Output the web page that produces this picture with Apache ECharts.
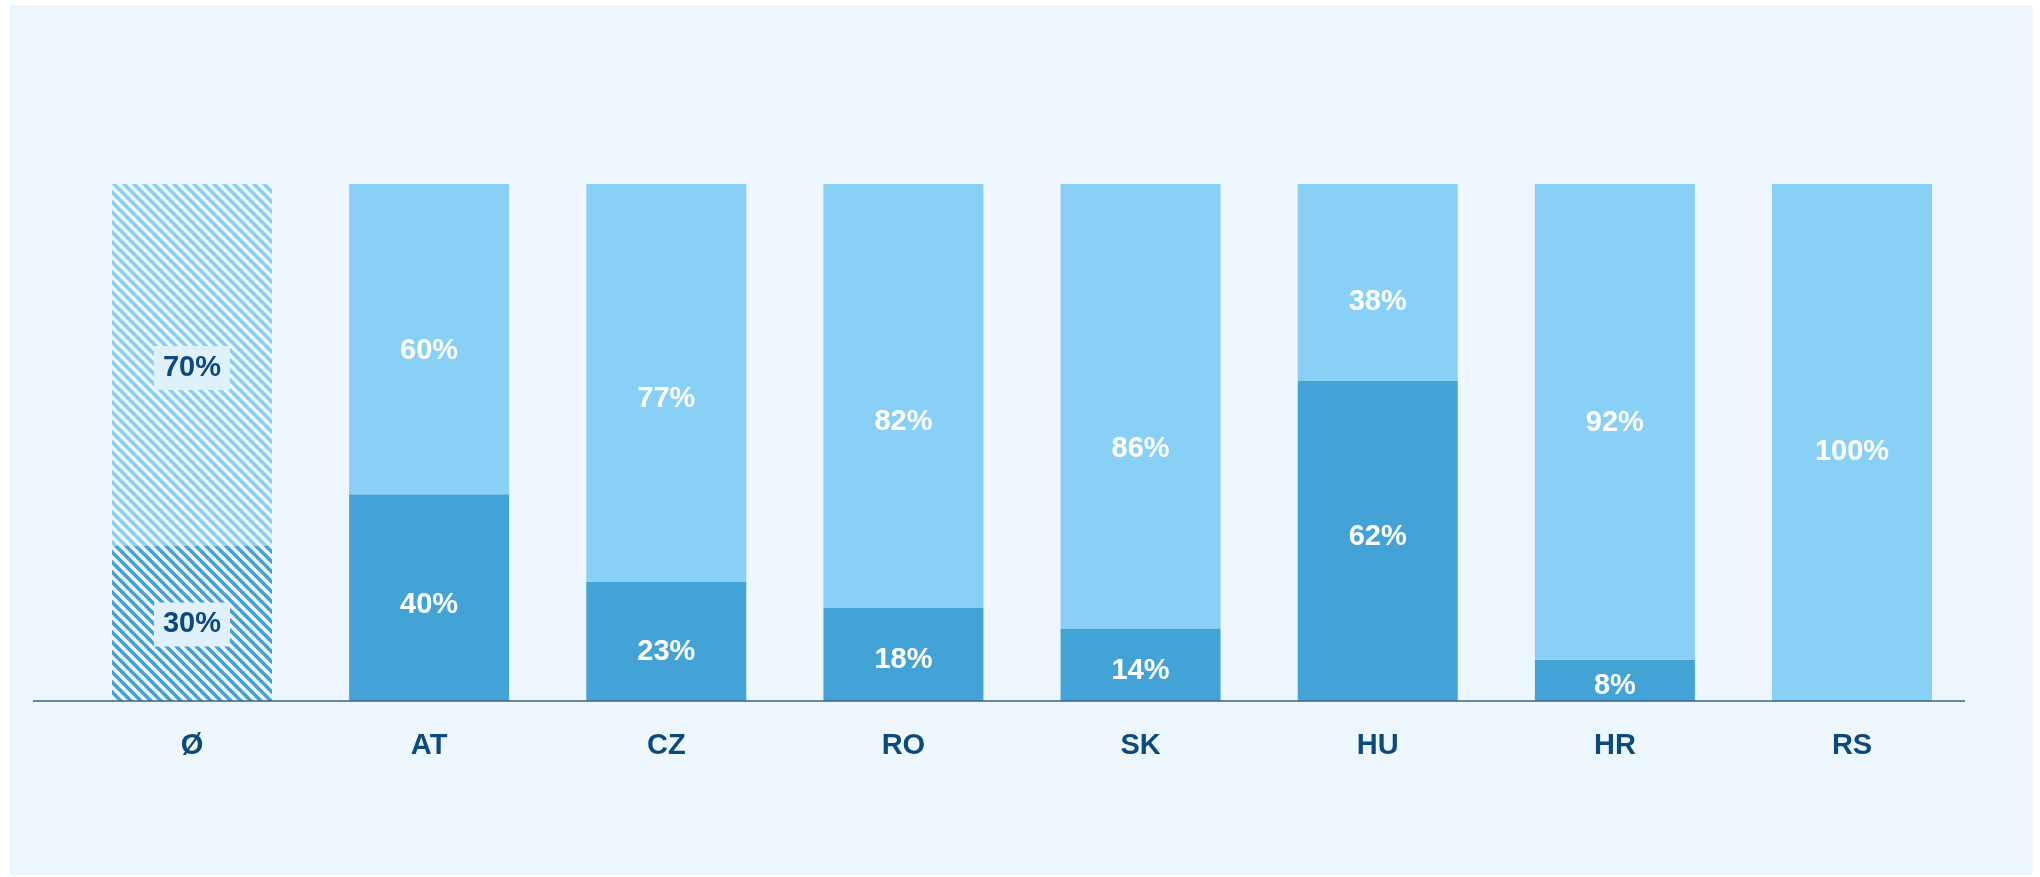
<!DOCTYPE html>
<html>
<head>
<meta charset="utf-8">
<script src="https://cdn.jsdelivr.net/npm/echarts@6/dist/echarts.min.js"></script>
<style>
    html, body { margin: 0; padding: 0; background: #ffffff; }
    .panel { position: absolute; left: 10px; top: 5px; width: 2023px; height: 870px; background: #eff7fe; }
    #chart { position: absolute; left: 0; top: 0; width: 2040px; height: 877px; }
</style>
</head>
<body>
<div class="panel"></div>
<div id="chart"></div>
<script>
// 国家 / Länder
var categories = ['Ø', 'AT', 'CZ', 'RO', 'SK', 'HU', 'HR', 'RS'];
// 下段（深色）
var lowerShare = [30, 40, 23, 18, 14, 62, 8, 0];
// 上段（浅色）
var upperShare = [70, 60, 77, 82, 86, 38, 92, 100];

// label nudges (px), the reference does not centre them exactly
var upperLabelShift = [3, 12, 16, 26, 43, 20, 1, 9];
var lowerLabelShift = [1, 7, 10, 6, 6, -4, 6, 0];

var colorDark = '#43a3d6';
var colorLight = '#88d0f5';
var navy = '#0b4a7c';

// 斜线填充
function hatch(stripe) {
    var c = document.createElement('canvas');
    c.width = 10;
    c.height = 10;
    var ctx = c.getContext('2d');
    ctx.fillStyle = '#eef7fd';
    ctx.fillRect(0, 0, 10, 10);
    ctx.strokeStyle = stripe;
    ctx.lineWidth = 3.6;
    [-10, 0, 10].forEach(function (k) {
        ctx.beginPath();
        ctx.moveTo(k - 2, -2);
        ctx.lineTo(k + 12, 12);
        ctx.stroke();
    });
    return { image: c, repeat: 'repeat' };
}

var boxLabel = {
    color: navy,
    backgroundColor: '#e0f1fc',
    padding: [8, 9, 7, 9]
};

function buildData(values, shifts, pattern) {
    return values.map(function (v, i) {
        var item = { value: v, label: { offset: [0, shifts[i]] } };
        if (i === 0) {
            item.itemStyle = { color: pattern };
            Object.assign(item.label, boxLabel);
        }
        return item;
    });
}

var myChart = echarts.init(document.getElementById('chart'));
myChart.setOption({
    backgroundColor: 'transparent',
    animation: false,
    grid: { left: 73.4, right: 69.4, top: 184, bottom: 176 },
    xAxis: {
        type: 'category',
        data: categories,
        axisLine: { show: false },
        axisTick: { show: false },
        axisLabel: {
            margin: 30,
            color: navy,
            fontFamily: 'Liberation Sans, Arial, sans-serif',
            fontWeight: 'bold',
            fontSize: 29
        }
    },
    yAxis: {
        type: 'value',
        min: 0,
        max: 100,
        show: false
    },
    series: [
        {
            name: 'lower',
            type: 'bar',
            stack: 'total',
            barWidth: 160,
            itemStyle: { color: colorDark },
            label: {
                show: true,
                position: 'inside',
                color: '#ffffff',
                fontFamily: 'Liberation Sans, Arial, sans-serif',
                fontWeight: 'bold',
                fontSize: 29,
                formatter: function (p) { return p.value > 0 ? p.value + '%' : ''; }
            },
            data: buildData(lowerShare, lowerLabelShift, hatch('#4a9fd0'))
        },
        {
            name: 'upper',
            type: 'bar',
            stack: 'total',
            barWidth: 160,
            itemStyle: { color: colorLight },
            label: {
                show: true,
                position: 'inside',
                color: '#ffffff',
                fontFamily: 'Liberation Sans, Arial, sans-serif',
                fontWeight: 'bold',
                fontSize: 29,
                formatter: function (p) { return p.value > 0 ? p.value + '%' : ''; }
            },
            data: buildData(upperShare, upperLabelShift, hatch('#8dcdf0'))
        }
    ],
    graphic: [
        {
            type: 'line',
            z: 10,
            shape: { x1: 33, y1: 701, x2: 1965, y2: 701 },
            style: { stroke: '#3f6182', lineWidth: 1.5 }
        }
    ]
});
window.addEventListener('resize', function () {
    myChart.resize();
});
</script>
</body>
</html>
